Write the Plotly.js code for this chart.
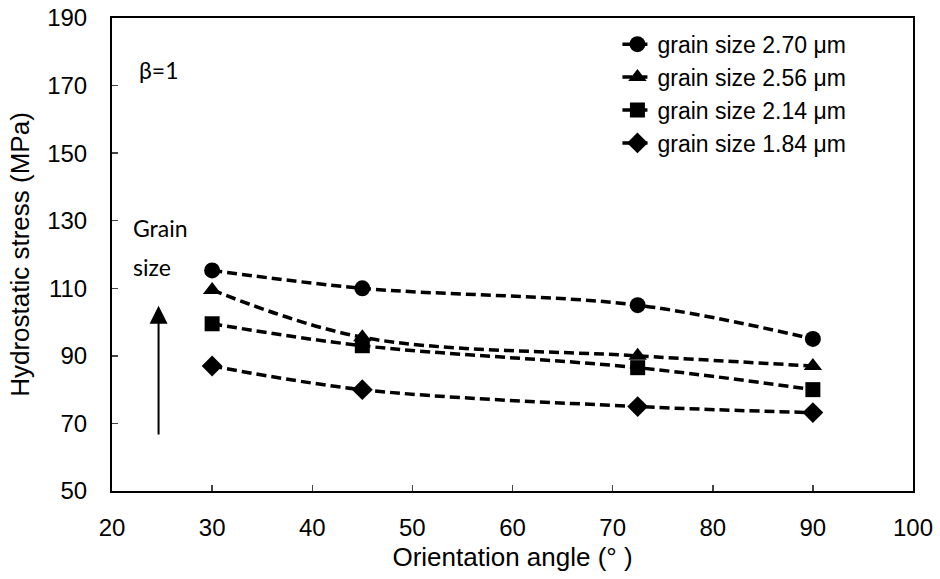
<!DOCTYPE html>
<html>
<head>
<meta charset="utf-8">
<script src="https://cdn.plot.ly/plotly-3.0.1.min.js"></script>
<style>html,body{margin:0;padding:0;background:#fff;}#chart{width:940px;height:579px;}</style>
</head>
<body>
<div id="chart"></div>
<script>
const angles = [30, 45, 72.5, 90];
const seriesNames = ["grain size 2.70 μm", "grain size 2.56 μm", "grain size 2.14 μm", "grain size 1.84 μm"];
const stress270 = [115.3, 110, 105, 95];
const stress256 = [109.5, 95.5, 90, 87];
const stress214 = [99.5, 93, 86.5, 80];
const stress184 = [87, 80, 75, 73.2];
const symbols = ["circle", "triangle-up", "square", "diamond"];
const markerSizes = [16, 16, 15, 16];

const allSeries = [stress270, stress256, stress214, stress184];
const traces = allSeries.map((ys, i) => ({
  x: angles, y: ys, name: seriesNames[i], type: "scatter", mode: "lines+markers",
  line: {color: "#000", width: 3.5, dash: "10px,5px", shape: "spline"},
  marker: {symbol: symbols[i], size: markerSizes[i], color: "#000"}
}));

const fam = "Liberation Sans, Arial, sans-serif";
const tickFont = {family: fam, size: 24, color: "#000"};
const titleFont = {family: fam, size: 26, color: "#000"};
const noteFont = {family: "Lato, Open Sans, sans-serif", size: 23, color: "#000"};
const layout = {
  width: 940, height: 579,
  margin: {l: 112, r: 27, t: 18, b: 88},
  paper_bgcolor: "#fff", plot_bgcolor: "#fff",
  showlegend: true,
  legend: {x: 0.631, y: 0.99, xanchor: "left", yanchor: "top", bgcolor: "rgba(0,0,0,0)",
           font: {family: fam, size: 23, color: "#000"}, tracegroupgap: 0, itemwidth: 30},
  xaxis: {range: [20, 100], tick0: 20, dtick: 10, ticks: "inside", ticklen: 6, tickwidth: 1.5,
          showline: true, linecolor: "#000", linewidth: 2, mirror: true, showgrid: false, zeroline: false,
          tickfont: tickFont, ticklabelstandoff: 14,
          title: {text: "Orientation angle (° )", font: titleFont, standoff: 8}},
  yaxis: {range: [50, 190], tick0: 50, dtick: 20, ticks: "inside", ticklen: 6, tickwidth: 1.5,
          showline: true, linecolor: "#000", linewidth: 2, mirror: true, showgrid: false, zeroline: false,
          tickfont: tickFont, ticklabelstandoff: 18,
          title: {text: "Hydrostatic stress (MPa)", font: titleFont, standoff: 10}},
  annotations: [
    {x: 22.5, y: 174.6, xref: "x", yref: "y", text: "β=1", showarrow: false, xanchor: "left",
     font: noteFont},
    {x: 21.9, y: 127.8, xref: "x", yref: "y", text: "Grain", showarrow: false, xanchor: "left",
     font: noteFont},
    {x: 21.9, y: 116.3, xref: "x", yref: "y", text: "size", showarrow: false, xanchor: "left",
     font: noteFont},
    {x: 24.65, y: 104.8, ax: 24.65, ay: 66.3, xref: "x", yref: "y", axref: "x", ayref: "y",
     text: "", showarrow: true, arrowhead: 2, arrowsize: 1.8, arrowwidth: 2, arrowcolor: "#000"}
  ]
};
Plotly.newPlot("chart", traces, layout, {displayModeBar: false, staticPlot: true});
</script>
</body>
</html>
